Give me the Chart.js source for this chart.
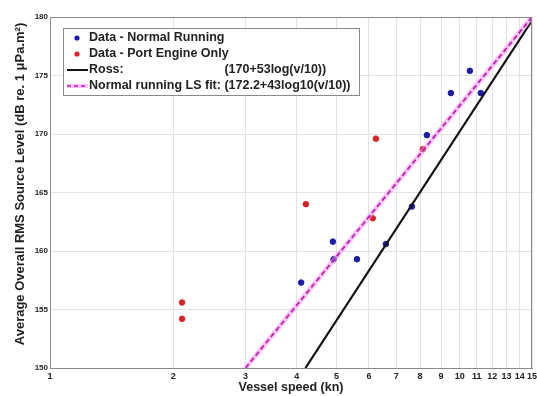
<!DOCTYPE html>
<html>
<head>
<meta charset="utf-8">
<script src="https://cdn.jsdelivr.net/npm/chart.js@4.4.1/dist/chart.umd.min.js"></script>
<style>
  html, body { margin: 0; padding: 0; background: #fff; }
  #wrap { width: 537px; height: 396px; }
</style>
</head>
<body>
<div id="wrap"><canvas id="chart"></canvas></div>
<script>
// Data
const normalSpeed = [4.10, 4.90, 4.92, 5.61, 6.60, 7.64, 8.31, 9.51, 10.58, 11.25];
const normalLevel = [157.3, 160.8, 159.3, 159.3, 160.6, 163.8, 169.9, 173.5, 175.4, 173.5];
const portSpeed = [2.10, 2.10, 4.21, 6.13, 6.24, 8.12];
const portLevel = [155.6, 154.2, 164.0, 162.8, 169.6, 168.7];
// straight lines on log axis: end points
const rossSpeed = [4.2, 15];
const rossLevel = [150, 179.7];
const fitSpeed = [3, 15];
const fitLevel = [150, 180];

const xTicks = [1, 2, 3, 4, 5, 6, 7, 8, 9, 10, 11, 12, 13, 14, 15];
const yTicks = [150, 155, 160, 165, 170, 175, 180];
const legendNames = ["Data - Normal Running", "Data - Port Engine Only", "Ross:", "Normal running LS fit: "];
const legendFormulas = ["", "", "(170+53log(v/10))", "(172.2+43log10(v/10))"];
const yTitle = "Average Overall RMS Source Level (dB re. 1 \u03bcPa.m\u00b2)";

const pts = (xs, ys) => xs.map((x, i) => ({ x: x, y: ys[i] }));

const BLUE = "rgb(28,28,165)";
const RED = "rgb(214,36,40)";
const MAG = "rgb(190,30,180)";
const FONT = "'Liberation Sans', Arial, sans-serif";

// legend drawn inside the plot, MATLAB style
const boxLegend = {
    id: "boxLegend",
    afterDatasetsDraw(chart) {
        const ctx = chart.ctx;
        ctx.save();
        const x0 = 63, y0 = 28, w = 296, h = 67;
        ctx.fillStyle = "#fff";
        ctx.fillRect(x0, y0, w, h);
        ctx.strokeStyle = "#8a8a8a";
        ctx.lineWidth = 1;
        ctx.strokeRect(x0 + 0.5, y0 + 0.5, w, h);

        ctx.font = "bold 12.5px " + FONT;
        ctx.textBaseline = "middle";
        const rowY = [38, 54, 70, 86];
        const textX = 89;
        const formulaX = textX + ctx.measureText(legendNames[3]).width;

        // markers
        ctx.fillStyle = BLUE;
        ctx.beginPath(); ctx.arc(77, rowY[0], 2.6, 0, Math.PI * 2); ctx.fill();
        ctx.fillStyle = RED;
        ctx.beginPath(); ctx.arc(77, rowY[1], 2.6, 0, Math.PI * 2); ctx.fill();
        ctx.strokeStyle = "#111"; ctx.lineWidth = 2;
        ctx.beginPath(); ctx.moveTo(67, rowY[2]); ctx.lineTo(88, rowY[2]); ctx.stroke();
        ctx.strokeStyle = "rgba(245,150,240,0.6)"; ctx.lineWidth = 4;
        ctx.beginPath(); ctx.moveTo(67, rowY[3]); ctx.lineTo(88, rowY[3]); ctx.stroke();
        ctx.strokeStyle = MAG; ctx.lineWidth = 1.6; ctx.setLineDash([4, 3]);
        ctx.beginPath(); ctx.moveTo(67, rowY[3]); ctx.lineTo(88, rowY[3]); ctx.stroke();
        ctx.setLineDash([]);

        ctx.fillStyle = "#222";
        for (let i = 0; i < legendNames.length; i++) {
            ctx.fillText(legendNames[i], textX, rowY[i]);
            if (legendFormulas[i]) ctx.fillText(legendFormulas[i], formulaX, rowY[i]);
        }
        ctx.restore();
    }
};

// frame on top/right and the rotated y title
const extras = {
    id: "extras",
    afterDraw(chart) {
        const a = chart.chartArea, ctx = chart.ctx;
        ctx.save();
        ctx.strokeStyle = "#8a8a8a";
        ctx.lineWidth = 1;
        ctx.beginPath();
        ctx.moveTo(a.left, a.top + 0.5); ctx.lineTo(a.right - 0.5, a.top + 0.5); ctx.lineTo(a.right - 0.5, a.bottom);
        ctx.stroke();

        ctx.translate(20, 184);
        ctx.rotate(-Math.PI / 2);
        ctx.font = "bold 13px " + FONT;
        ctx.fillStyle = "#222";
        ctx.textAlign = "center";
        ctx.textBaseline = "middle";
        ctx.fillText(yTitle, 0, 0);
        ctx.restore();
    }
};

new Chart(document.getElementById("chart"), {
    type: "scatter",
    data: {
        datasets: [
            {
                label: "LS fit",
                type: "line",
                data: pts(fitSpeed, fitLevel),
                borderColor: MAG,
                borderWidth: 1.8,
                borderDash: [5, 3],
                pointRadius: 0,
                order: 0
            },
            {
                label: "LS fit glow",
                type: "line",
                data: pts(fitSpeed, fitLevel),
                borderColor: "rgba(245,150,240,0.55)",
                borderWidth: 5,
                pointRadius: 0,
                order: 1
            },
            {
                label: "Ross",
                type: "line",
                data: pts(rossSpeed, rossLevel),
                borderColor: "#111",
                borderWidth: 2.2,
                pointRadius: 0,
                order: 2
            },
            {
                label: "Data - Normal Running",
                data: pts(normalSpeed, normalLevel),
                backgroundColor: BLUE,
                borderColor: BLUE,
                pointRadius: 2.8,
                order: 3
            },
            {
                label: "Data - Port Engine Only",
                data: pts(portSpeed, portLevel),
                backgroundColor: RED,
                borderColor: RED,
                pointRadius: 2.8,
                order: 4
            }
        ]
    },
    options: {
        responsive: true,
        maintainAspectRatio: false,
        animation: false,
        layout: { padding: { top: 17, right: 2, left: 0, bottom: 0 } },
        plugins: {
            legend: { display: false },
            tooltip: { enabled: false }
        },
        scales: {
            x: {
                type: "logarithmic",
                min: 1,
                max: 15,
                afterBuildTicks: (axis) => { axis.ticks = xTicks.map(v => ({ value: v })); },
                afterFit: (s) => { s.height = 28; s.paddingLeft = 0; s.paddingRight = 0; },
                ticks: {
                    callback: (v) => String(v),
                    autoSkip: false,
                    maxRotation: 0,
                    padding: 3,
                    color: "#222",
                    font: { family: FONT, size: 9, weight: "bold" }
                },
                grid: { color: "#e3e3e3", drawTicks: false },
                border: { color: "#8a8a8a" },
                title: {
                    display: true,
                    text: "Vessel speed (kn)",
                    color: "#222",
                    font: { family: FONT, size: 12.5, weight: "bold" },
                    padding: { top: 0, bottom: 1 }
                }
            },
            y: {
                min: 150,
                max: 180,
                afterBuildTicks: (axis) => { axis.ticks = yTicks.map(v => ({ value: v })); },
                afterFit: (s) => { s.width = 50; },
                ticks: {
                    padding: 2,
                    color: "#222",
                    font: { family: FONT, size: 8, weight: "bold" }
                },
                grid: { color: "#e3e3e3", drawTicks: false },
                border: { color: "#8a8a8a" }
            }
        }
    },
    plugins: [boxLegend, extras]
});
</script>
</body>
</html>
